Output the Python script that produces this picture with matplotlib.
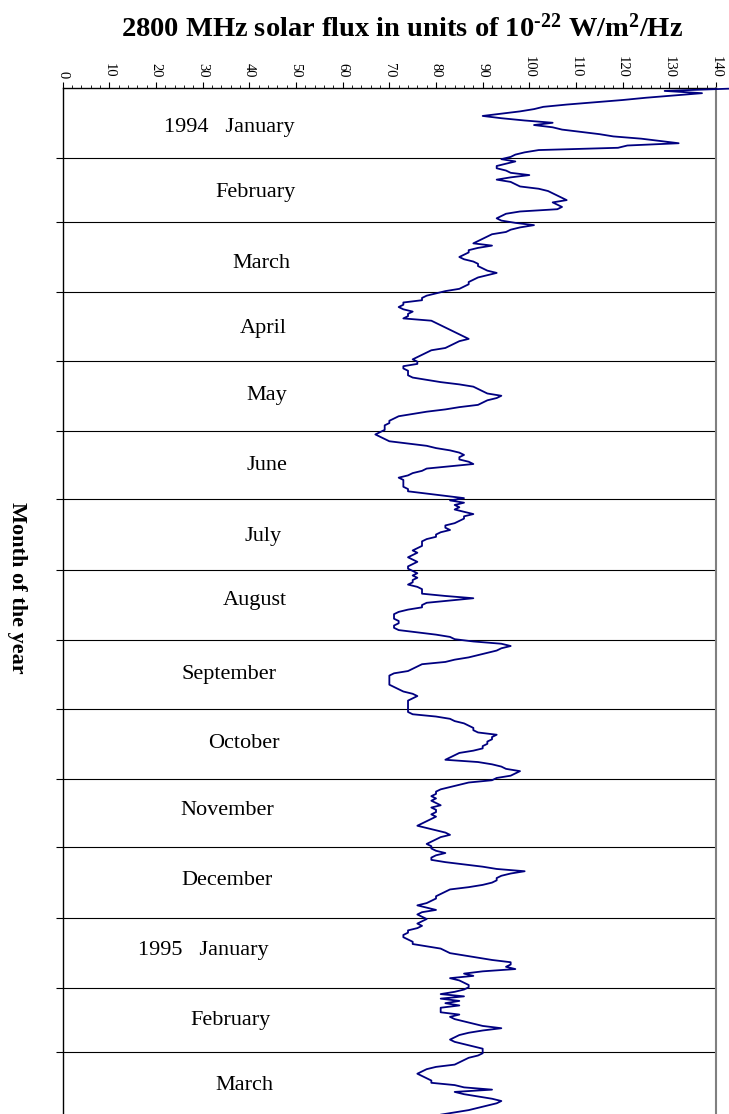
import numpy as np
import matplotlib
matplotlib.use("Agg")
import matplotlib.pyplot as plt
from matplotlib.ticker import MultipleLocator

plt.rcParams['font.family'] = ['Liberation Serif', 'DejaVu Serif']
plt.rcParams['mathtext.fontset'] = 'custom'
plt.rcParams['mathtext.rm'] = 'Liberation Serif:bold'
plt.rcParams['mathtext.bf'] = 'Liberation Serif:bold'

# daily 2800 MHz flux, Jan 1994 .. Mar 1995
jan94 = [143, 129, 137, 131, 125, 120, 114, 108, 103, 101, 98, 94, 90, 94, 99, 105,
         101, 105, 107, 111, 115, 118, 124, 128, 132, 121, 119, 102, 99, 97, 96]
feb94 = [94, 97, 95, 93, 93, 95, 96, 100, 96, 93, 96, 97, 98, 102, 104, 105, 106, 107,
         108, 105, 106, 107, 106, 98, 95, 94, 93, 94]
mar94 = [97, 101, 98, 96, 95, 92, 91, 90, 89, 88, 92, 89, 87, 87, 86, 85, 86, 88, 89,
         89, 90, 91, 93, 91, 89, 88, 87, 87, 86, 85, 82]
apr94 = [80, 78, 77, 77, 73, 73, 72, 73, 75, 74, 74, 73, 79, 80, 81, 82, 83, 84, 85,
         86, 87, 85, 84, 83, 82, 79, 78, 77, 76, 75]
may94 = [76, 76, 73, 73, 74, 74, 74, 75, 78, 81, 85, 88, 89, 90, 91, 94, 93, 91, 90,
         89, 85, 82, 78, 75, 72, 71, 70, 70, 69, 69, 69]
jun94 = [68, 67, 68, 69, 70, 74, 78, 80, 83, 85, 86, 85, 85, 87, 88, 83, 78, 77, 75,
         74, 72, 73, 73, 73, 73, 74, 74, 78, 82, 86]
jul94 = [83, 86, 84, 85, 84, 86, 88, 86, 86, 85, 84, 82, 82, 83, 81, 80, 80, 78, 77,
         77, 77, 76, 75, 76, 75, 74, 75, 76, 75, 74, 74]
aug94 = [75, 76, 75, 76, 75, 75, 74, 76, 77, 77, 77, 82, 88, 83, 78, 77, 77, 74, 72,
         71, 71, 71, 72, 72, 71, 71, 72, 76, 80, 83, 84]
sep94 = [88, 94, 96, 94, 93, 91, 89, 87, 84, 82, 77, 76, 75, 74, 71, 70, 70, 70, 70,
         70, 71, 72, 73, 75, 76, 75, 74, 74, 74, 74]
oct94 = [74, 74, 75, 80, 83, 84, 86, 87, 88, 88, 89, 93, 92, 92, 91, 91, 90, 90, 88,
         85, 84, 83, 82, 89, 92, 94, 95, 98, 97, 96, 93]
nov94 = [92, 87, 85, 83, 81, 80, 80, 79, 80, 79, 80, 81, 79, 80, 80, 79, 80, 79, 78,
         77, 76, 78, 80, 82, 83, 81, 80, 79, 78, 79]
dec94 = [79, 80, 82, 80, 79, 79, 82, 86, 90, 93, 99, 96, 94, 93, 93, 92, 90, 87, 83,
         82, 81, 80, 80, 79, 78, 76, 78, 80, 77, 76, 77]
jan95 = [78, 77, 76, 77, 76, 74, 74, 73, 73, 74, 75, 75, 78, 81, 82, 83, 86, 89, 92,
         96, 96, 95, 97, 90, 86, 88, 83, 85, 86, 87, 87]
feb95 = [86, 84, 81, 86, 81, 85, 82, 85, 81, 81, 81, 85, 83, 84, 86, 88, 90, 94, 90,
         87, 85, 84, 83, 84, 86, 88, 90, 90]
mar95 = [90, 89, 87, 86, 85, 84, 80, 78, 77, 76, 77, 78, 79, 79, 84, 86, 92, 84, 86,
         89, 92, 94, 93, 91, 89, 87, 84, 81, 80, 79, 79]

months = ["1994   January", "February", "March", "April", "May", "June", "July",
          "August", "September", "October", "November", "December",
          "1995   January", "February", "March"]
series = [jan94, feb94, mar94, apr94, may94, jun94, jul94, aug94, sep94, oct94,
          nov94, dec94, jan95, feb95, mar95]

# label placement (flux units across, days down)
label_x = [35.6, 41.4, 42.6, 43.0, 43.8, 43.7, 43.0, 41.1, 35.6, 38.8, 35.2, 35.3,
           30.2, 36.0, 39.0]
label_dy = [2, 1, 3, 1, 0, 0, 1, -2, 0, 0, -1, -1, -1, 0, -1]

flux = np.concatenate(series)
days = np.arange(len(flux)) + 0.5
lengths = [len(s) for s in series]
bounds = np.cumsum([0] + lengths)

W, H = 729, 1114
fig = plt.figure(figsize=(W / 100, H / 100), dpi=100)
top = 87.5
px_day = 2.275
ax_h = bounds[-1] * px_day
ax = fig.add_axes([62.7 / W, 1 - (top + ax_h) / H, (716 - 62.7) / W, ax_h / H])

ax.plot(flux, days, color='#000080', lw=1.3, clip_on=False, zorder=3)

ax.set_xlim(0, 140)
ax.set_ylim(bounds[-1], 0)
ax.xaxis.tick_top()
ax.xaxis.set_major_locator(MultipleLocator(10))
ax.xaxis.set_minor_locator(MultipleLocator(2))
ax.tick_params(axis='x', which='major', direction='out', length=4, width=0.8,
               labelsize=10.5, pad=3, labelrotation=-90)
ax.tick_params(axis='x', which='minor', direction='out', length=2, width=0.6)

ax.set_yticks(bounds[1:-1])
ax.tick_params(axis='y', direction='out', length=5, width=0.8, labelleft=False)
ax.grid(axis='y', color='black', lw=0.8)

for s in ['left', 'top']:
    ax.spines[s].set_color('black')
    ax.spines[s].set_linewidth(1.0)
ax.spines['right'].set_color('#808080')
ax.spines['right'].set_linewidth(1.5)
ax.spines['bottom'].set_visible(False)

for i, name in enumerate(months):
    mid = (bounds[i] + bounds[i + 1]) / 2 + label_dy[i]
    ax.text(label_x[i], mid, name, ha='center', va='center', fontsize=16)

fig.text(402 / W, 1 - 28 / H,
         "2800 MHz solar flux in units of 10$\\mathregular{^{\u201022}}$ W/m$\\mathregular{^2}$/Hz",
         ha='center', va='center', fontsize=20.5, fontweight='bold')
fig.text(17 / W, 1 - 588 / H, "Month of the year", rotation=-90,
         ha='center', va='center', fontsize=16, fontweight='bold')

fig.savefig("out.png", dpi=100)
